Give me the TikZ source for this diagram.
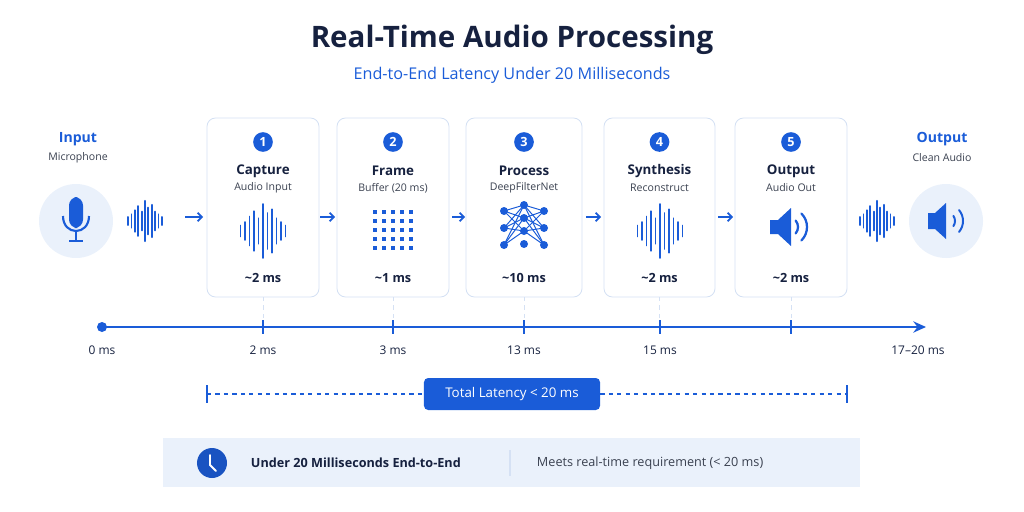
\documentclass[tikz,border=0pt]{standalone}
\usepackage{fontspec}
\setmainfont{Open Sans}
\usetikzlibrary{positioning,calc,arrows.meta}
\definecolor{accent}{HTML}{1A5CD8}
\definecolor{navy}{HTML}{16213F}
\definecolor{edge}{HTML}{D5E1F4}
\definecolor{pale}{HTML}{EAF1FB}
\definecolor{greytext}{HTML}{3A4150}
\tikzset{
  stage/.style={draw=edge, line width=0.6pt, rounded corners=6pt, fill=white},
  num/.style={circle, fill=accent, text=white, inner sep=0pt, minimum size=14pt, font=\bfseries\small},
  head/.style={text=navy, font=\bfseries\fontsize{9.5}{11}\selectfont, inner sep=1pt},
  sub/.style={text=greytext, font=\fontsize{7.5}{9}\selectfont, inner sep=1pt},
  cost/.style={text=navy, font=\bfseries\fontsize{9}{11}\selectfont, inner sep=1pt},
  tick/.style={text=navy, font=\fontsize{8.5}{10}\selectfont, inner sep=1pt},
  flow/.style={-{Straight Barb[length=3pt,width=6pt]}, accent, line width=1.2pt},
  bar/.style={accent, line width=1.3pt, line cap=round}
}
\newcommand{\wave}[3]{% x, y, scale
  \foreach \dx/\h in {-5/3,-4/5,-3/8,-2/11,-1/7,0/15,1/10,2/12,3/7,4/5,5/3}
    \draw[bar] (#1+\dx*#3*4.5, #2-\h*#3*1.8) -- (#1+\dx*#3*4.5, #2+\h*#3*1.8);}
\begin{document}
\begin{tikzpicture}[x=0.025cm, y=-0.025cm]
\useasboundingbox (0,0) rectangle (1024,512);

% Heading
\node[text=navy, font=\bfseries\fontsize{21}{24}\selectfont] (title) at (512,40) {Real-Time Audio Processing};
\node[text=accent, font=\fontsize{11.5}{13}\selectfont] (subtitle) at (512,75) {End-to-End Latency Under 20 Milliseconds};

% Input / output
\node[text=accent, font=\bfseries\fontsize{10}{12}\selectfont] (inlbl) at (78,139) {Input};
\node[sub] (insub) at (78,158) {Microphone};
\node[circle, fill=pale, inner sep=0pt, minimum size=1.85cm] (mic) at (76,221) {};
\fill[accent, rounded corners=6pt] (69,197) rectangle (83,228);
\draw[accent, line width=1.5pt] (63,216) .. controls (63,236) and (89,236) .. (89,216);
\draw[accent, line width=1.5pt] (76,231) -- (76,241) (69,241) -- (83,241);
\node[text=accent, font=\bfseries\fontsize{10}{12}\selectfont] (outlbl) at (942,139) {Output};
\node[sub] (outsub) at (942,158) {Clean Audio};
\node[circle, fill=pale, inner sep=0pt, minimum size=1.85cm] (spk) at (946,221) {};
\fill[accent] (928,213) -- (935,213) -- (946,203) -- (946,239) -- (935,229) -- (928,229) -- cycle;
\draw[accent, line width=1.4pt, line cap=round] ($(946,221)+(-35:9)$) arc (-35:35:9);
\draw[accent, line width=1.4pt, line cap=round] ($(946,221)+(-40:17)$) arc (-40:40:17);
\wave{145}{221}{0.75}
\wave{877}{221}{0.75}

% Stages
\foreach \n/\l/\r/\hd/\sb/\c in {1/207/319/Capture/Audio Input/{\textasciitilde2 ms},
    2/337/449/Frame/Buffer (20 ms)/{\textasciitilde1 ms},
    3/466/582/Process/DeepFilterNet/{\textasciitilde10 ms},
    4/604/715/Synthesis/Reconstruct/{\textasciitilde2 ms},
    5/735/847/Output/Audio Out/{\textasciitilde2 ms}} {
  \draw[stage] (\l,118) rectangle (\r,297);
  \pgfmathsetmacro{\m}{(\l+\r)/2}
  \node[num] (n\n) at (\m,142) {\n};
  \node[head] (h\n) at (\m,171) {\hd};
  \node[sub] (s\n) at (\m,188) {\sb};
  \node[cost] (c\n) at (\m,278) {\c};
  \draw[edge, dashed] (\m,297) -- (\m,320);
}
% icons
\wave{263}{231}{1.0}
\foreach \i in {0,...,4} \foreach \j in {0,...,4}
  \fill[accent] (375+\i*9-2,212+\j*9-2) rectangle ++(4,4);
\foreach \a/\b in {0/0,0/1,0/2,1/0,1/1,1/2,2/0,2/1,2/2} {
  \draw[accent, line width=0.7pt] (504,211+\a*17) -- (524,205+\b*13);
  \draw[accent, line width=0.7pt] (524,205+\b*13) -- (544,211+\a*17);
}
\foreach \y in {211,228,245} { \fill[accent] (504,\y) circle (4); \fill[accent] (544,\y) circle (4); }
\foreach \y in {205,218,231,244} \fill[accent] (524,\y) circle (4);
\wave{660}{231}{1.0}
\fill[accent] (770,220) -- (778,220) -- (791,208) -- (791,246) -- (778,234) -- (770,234) -- cycle;
\draw[accent, line width=1.6pt, line cap=round] ($(788,227)+(-40:10)$) arc (-40:40:10);
\draw[accent, line width=1.6pt, line cap=round] ($(788,227)+(-45:19)$) arc (-45:45:19);

% flow arrows
\foreach \x/\y in {185/203,320/335,452/465,586/601,718/733}
  \draw[flow] (\x,217) -- (\y,217);

% Timeline
\coordinate (t0) at (102,327); \coordinate (tend) at (926,327);
\fill[accent] (t0) circle (5);
\draw[accent, line width=1.6pt, -{Stealth[length=9pt,width=8pt]}] (t0) -- (tend);
\foreach \x in {263,393,524,660,791} \draw[accent, line width=0.8pt] (\x,320) -- (\x,334);
\foreach \x/\t in {102/0 ms,263/2 ms,393/3 ms,524/13 ms,660/15 ms,918/17--20 ms}
  \node[tick] at (\x,350) {\t};

% Total latency
\node[fill=accent, text=white, rounded corners=3pt, minimum width=4.4cm, minimum height=0.8cm, font=\fontsize{9.5}{11}\selectfont] (total) at (512,394) {Total Latency < 20 ms};
\draw[accent, dashed, line width=0.8pt] (207,394) -- (total.west) (total.east) -- (847,394);
\draw[accent, line width=0.8pt] (207,385) -- (207,403) (847,385) -- (847,403);

% Summary panel
\fill[pale] (163,438) rectangle (860,487);
\node[circle, fill=accent!85!navy, minimum size=0.75cm, inner sep=0pt] (clock) at (212,463) {};
\draw[white, line width=1.4pt, line cap=round] (210,455) -- (210,465) -- (216,471);
\node[anchor=west, text=navy, font=\bfseries\fontsize{9}{11}\selectfont] (under) at (246,463) {Under 20 Milliseconds End-to-End};
\draw[edge, line width=0.8pt] (510,450) -- (510,476);
\node[anchor=west, text=greytext, font=\fontsize{9}{11}\selectfont] (meets) at (532,463) {Meets real-time requirement (< 20 ms)};
\end{tikzpicture}
\end{document}
